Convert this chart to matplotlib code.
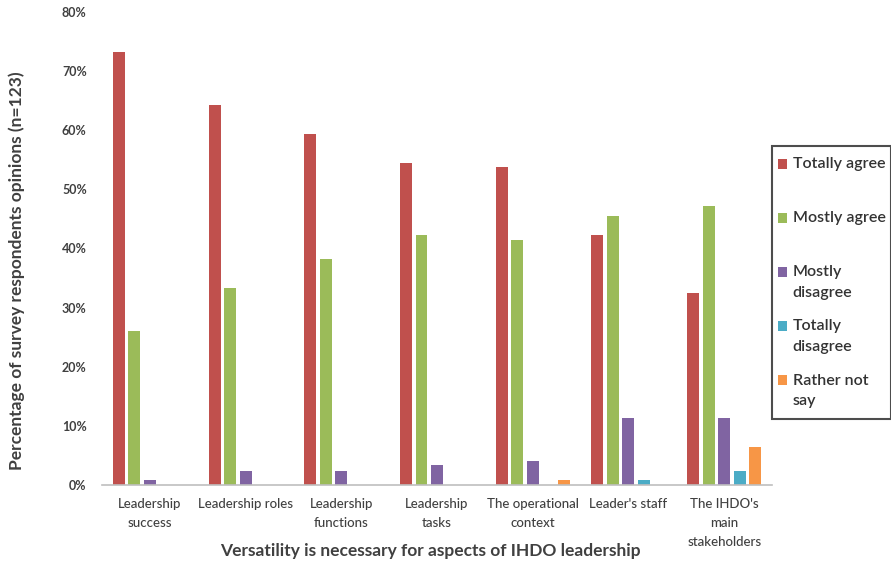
import matplotlib
matplotlib.use("Agg")
import matplotlib.pyplot as plt
import numpy as np
from matplotlib.patches import Rectangle
from matplotlib.path import Path
from matplotlib.legend_handler import HandlerPatch
from matplotlib.container import BarContainer

categories = ["Leadership\nsuccess", "Leadership roles", "Leadership\nfunctions",
              "Leadership\ntasks", "The operational\ncontext", "Leader's staff",
              "The IHDO's\nmain\nstakeholders"]
series_names = ["Totally agree", "Mostly agree", "Mostly\ndisagree",
                "Totally\ndisagree", "Rather not\nsay"]
totally_agree = [73.2, 64.2, 59.3, 54.5, 53.7, 42.3, 32.5]
mostly_agree = [26.0, 33.3, 38.2, 42.3, 41.5, 45.5, 47.2]
mostly_disagree = [0.8, 2.4, 2.4, 3.3, 4.1, 11.4, 11.4]
totally_disagree = [0.0, 0.0, 0.0, 0.0, 0.0, 0.8, 2.4]
rather_not_say = [0.0, 0.0, 0.0, 0.0, 0.8, 0.0, 6.5]
colors = ["#C0504D", "#9BBB59", "#8064A2", "#4BACC6", "#F79646"]
yticks = [0, 10, 20, 30, 40, 50, 60, 70, 80]

plt.rcParams['font.family'] = ['Lato', 'DejaVu Sans']
txt = "#404040"

fig = plt.figure(figsize=(8.91, 5.66), dpi=100)
ax = fig.add_axes([102/891, 1-485/566, (772-102)/891, (485-12)/566])

x = np.arange(len(categories))
slot = 0.162
bw = 0.125
all_series = [totally_agree, mostly_agree, mostly_disagree, totally_disagree, rather_not_say]
handles = []
for i, (vals, c) in enumerate(zip(all_series, colors)):
    b = ax.bar(x + (i - 2) * slot, vals, width=bw, color=c, linewidth=0)
    handles.append(b)

ax.set_xlim(-0.5, 6.5)
ax.set_ylim(0, 80)
ax.set_yticks(yticks)
ax.set_yticklabels([f"{v}%" for v in yticks])
ax.set_xticks(x)
ax.set_xticklabels(categories)
for s in ["top", "right", "left"]:
    ax.spines[s].set_visible(False)
ax.spines["bottom"].set_color("#BFBFBF")
ax.spines["bottom"].set_linewidth(1.2)
ax.tick_params(axis="both", length=0)
ax.tick_params(axis="y", pad=11, labelsize=9, labelcolor=txt)
ax.tick_params(axis="x", pad=9, labelsize=9.5, labelcolor=txt)
for t in ax.get_yticklabels():
    t.set_fontweight("bold")
for t in ax.get_xticklabels():
    t.set_linespacing(1.75)
    t.set_verticalalignment("top")
    t.set_fontweight("medium")

fig.text(17/891, 1-271/566, "Percentage of survey respondents opinions (n=123)",
         rotation=90, ha="center", va="center", fontsize=12.5, fontweight="bold", color=txt)
fig.text(430/891, 1-551/566, "Versatility is necessary for aspects of IHDO leadership",
         ha="center", va="center", fontsize=12.5, fontweight="bold", color=txt)

fs = 11.5
ls = 1.6
bpad = 0.35


def top_patch(legend, orig_handle, xdescent, ydescent, width, height, fontsize):
    shift = 0.5 * ls * fontsize * 0.82
    return Rectangle((-xdescent, -ydescent + shift), width, height)


class VPadBox:
    """Square box with extra vertical padding only."""
    def __init__(self, vpad):
        self.vpad = vpad

    def __call__(self, x0, y0, width, height, mutation_scale):
        p = self.vpad * mutation_scale
        y0 -= p
        y1 = y0 + height + 2 * p
        x1 = x0 + width
        return Path([(x0, y0), (x1, y0), (x1, y1), (x0, y1), (x0, y0)],
                    closed=True)


labels = [n if "\n" in n else n + "\n " for n in series_names]
extra_px = bpad * fs * 100 / 72
leg = fig.legend(handles, labels, loc="upper left",
                 bbox_to_anchor=(772/891, 1-(146 + extra_px)/566), fontsize=fs,
                 frameon=True, fancybox=False, edgecolor="#202020",
                 handlelength=0.6, handleheight=0.6, handletextpad=0.35,
                 labelspacing=1.22, borderpad=bpad, borderaxespad=0,
                 handler_map={BarContainer: HandlerPatch(patch_func=top_patch,
                              update_func=lambda h, o: h.update_from(o.patches[0]))})
leg.get_frame().set_linewidth(1.5)
leg.get_frame().set_boxstyle(VPadBox(bpad))
for t in leg.get_texts():
    t.set_linespacing(ls)
    t.set_color("#333333")
    t.set_fontweight("semibold")

fig.savefig("out.png", dpi=100)
